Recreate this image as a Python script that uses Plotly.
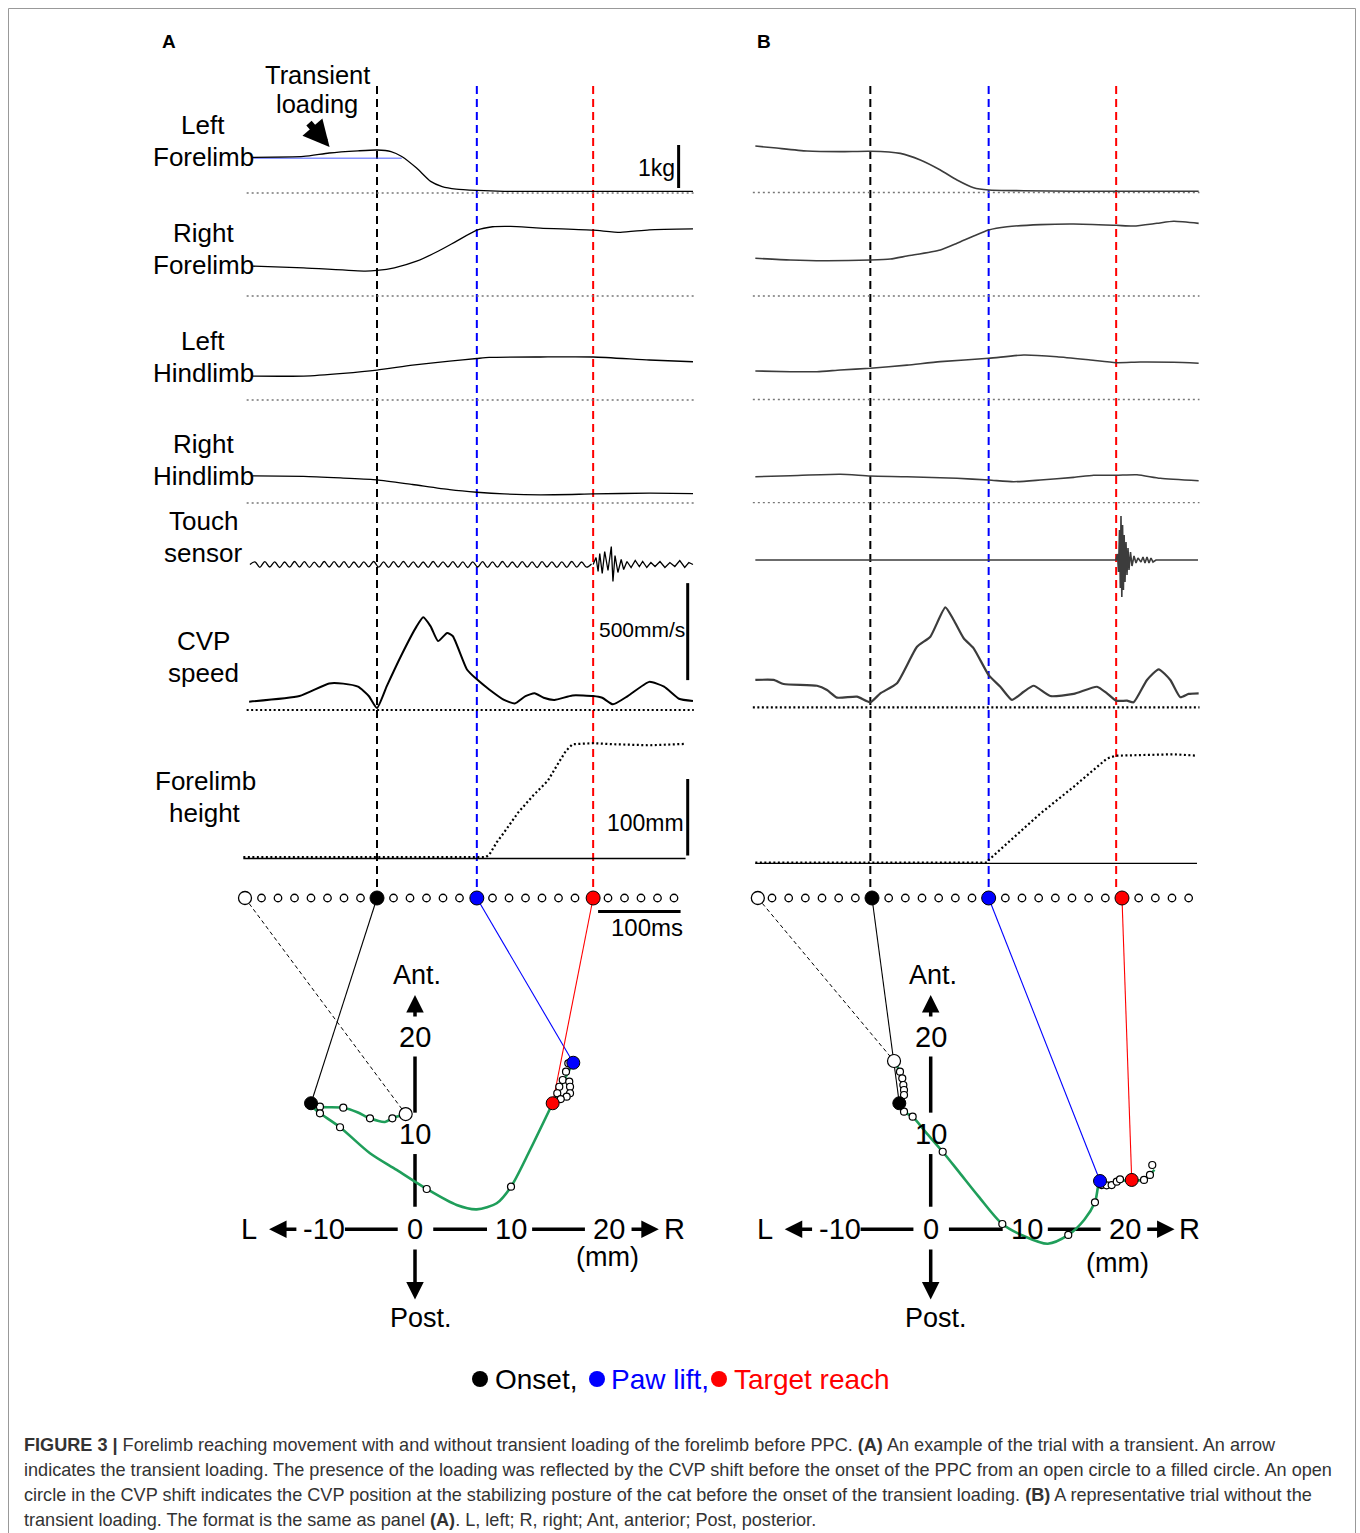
import plotly.graph_objects as go

W, H = 1360, 1533
FONT = "Liberation Sans, Arial, Helvetica, sans-serif"

# ======================= DATA =======================
# Panel A (time in ms relative to movement onset)
A_LF_t = [-151, -89, -58, -23, 0, 17, 30, 48, 65, 79, 96, 121, 154, 262, 383]
A_LF_kg = [0.83, 0.85, 0.93, 0.98, 1.00, 0.965, 0.85, 0.58, 0.27, 0.15, 0.09, 0.06, 0.04, 0.04, 0.04]
A_LF_ref_t = [-151, 30]
A_LF_ref_kg = [0.81, 0.81]
A_RF_t = [-151, -89, -14, 0, 21, 48, 74, 96, 121, 140, 162, 198, 262, 295, 330, 383]
A_RF_kg = [0.695, 0.656, 0.58, 0.595, 0.656, 0.81, 1.04, 1.27, 1.53, 1.61, 1.62, 1.58, 1.53, 1.48, 1.54, 1.56]
A_LH_t = [-151, -89, -41, 0, 43, 88, 121, 136, 198, 262, 330, 383]
A_LH_kg = [0.556, 0.556, 0.619, 0.695, 0.81, 0.905, 0.965, 0.99, 1.00, 1.00, 0.93, 0.89]
A_RH_t = [-151, -89, -41, 0, 43, 88, 121, 154, 198, 262, 330, 383]
A_RH_kg = [0.63, 0.62, 0.58, 0.54, 0.43, 0.31, 0.25, 0.21, 0.19, 0.21, 0.23, 0.22]
A_TS_t = [-154, -148, -142, -136, -130, -124, -118, -112, -106, -100,
          -94, -88, -82, -76, -70, -64, -58, -52, -46, -40,
          -34, -28, -22, -16, -10, -4, 2, 8, 14, 20,
          26, 32, 38, 44, 50, 56, 62, 68, 74, 80,
          86, 92, 98, 104, 110, 116, 122, 128, 134, 140,
          146, 152, 158, 164, 170, 176, 182, 188, 194, 200,
          206, 212, 218, 224, 230, 236, 242, 248, 254, 260]
A_TS_v = [0, 2.6, -2.8, 2.9, -2.5, 2.7, -3.0, 2.5, -2.7, 3.0,
          -2.6, 2.8, -2.9, 2.4, -2.7, 3.0, -2.5, 2.8, -2.6, 2.9,
          -3.0, 2.5, -2.8, 2.7, -2.4, 3.0, -2.7, 2.6, -2.9, 2.8,
          -2.5, 3.0, -2.6, 2.7, -2.9, 2.5, -2.8, 3.0, -2.6, 2.7,
          -2.5, 2.9, -2.8, 2.6, -3.0, 2.7, -2.5, 2.8, -2.9, 2.6,
          -2.7, 3.0, -2.6, 2.5, -2.8, 2.9, -2.7, 2.6, -3.0, 2.8,
          -2.5, 2.7, -2.9, 2.6, -2.8, 3.0, -2.6, 2.5, -2.7, 0.5]
A_TSB_t = [262, 265.5, 268, 270, 273, 276, 280, 284, 286, 288.5, 292, 296, 299, 303, 308,
           313, 318, 322, 327, 332, 337, 343, 349, 355, 361, 367, 373, 378, 383]
A_TSB_v = [0, 7, -7, 11, -9, 13, -6, 18, -17, 9, -8, 5, -5, 3, -3,
           4, -2, 3, -3, 2, -2, 3, -3, 2, -2, 4, -3, 2, 0]
A_CVP_t = [-155, -94, -58, -41, -23, -10, 0, 12, 30, 48, 56, 65, 74, 85, 92, 109, 121,
           136, 154, 167, 180, 191, 202, 215, 237, 262, 273, 286, 304, 330, 348, 366, 383]
A_CVP_v = [43, 72, 137, 136, 120, 72, 10, 124, 286, 431, 478, 431, 355, 397, 380, 209, 158,
           106, 52, 34, 72, 86, 63, 52, 75, 72, 63, 29, 72, 145, 120, 58, 46]
A_FH_t = [-162, 131.5, 136, 145, 154, 171, 189, 207, 220, 229, 237, 262, 286, 330, 374]
A_FH_mm = [1.7, 1.7, 4.7, 21, 34, 60, 82, 101.6, 125, 140.7, 149.4, 150.7, 149.4, 148, 149.8]
A_DOT_t = [-140, -120, -100, -80, -60, -40, -20, 20, 40, 60, 80, 100,
           140, 160, 180, 200, 220, 240, 280, 300, 320, 340, 360]
A_OPEN_t = -160
A_EVENT_t = [0, 121, 262]          # onset, paw lift, target reach
A_EVENT_LINE_t = [0, 121, 262]
# CVP trajectory (mm): x = L/R, y = Ant/Post
A_PRE_x = [-0.97, -2.36, -3.13, -4.69, -6.0, -7.47, -9.90, -10.83]
A_PRE_y = [12.0, 11.56, 11.18, 11.56, 12.2, 12.67, 12.77, 13.13]
A_POST_x = [-10.83, -10.4, -9.9, -7.81, -4.69, -1.91, 1.22, 4.34, 6.43, 8.51, 10.0, 11.98, 14.34, 15.4, 16.49]
A_POST_y = [13.13, 12.5, 12.08, 10.63, 7.92, 6.18, 4.2, 2.53, 2.08, 2.71, 4.44, 8.26, 13.13, 15.3, 17.35]
A_WHITE_x = [-9.90, -7.47, -4.69, -2.36, -9.90, -7.81, 1.22, 10.0, 15.97, 15.73, 15.39, 16.07,
             15.03, 16.15, 14.82, 16.15, 15.8, 15.18]
A_WHITE_y = [12.77, 12.67, 11.56, 11.56, 12.08, 10.63, 4.2, 4.44, 17.29, 16.42, 15.55, 15.38,
             14.85, 14.85, 14.17, 14.17, 13.81, 13.57]
A_OPEN_xy = (-0.97, 12.0)
A_EVENT_x = [-10.83, 16.49, 14.34]
A_EVENT_y = [13.13, 17.35, 13.13]

# Panel B
B_LF_t = [-140, -118, -78, -38, -2, 34, 58, 82, 102, 122, 140, 182, 242, 293, 392]
B_LF_kg = [1.08, 1.04, 0.965, 0.95, 0.96, 0.91, 0.756, 0.523, 0.29, 0.11, 0.058, 0.042, 0.028, 0.028, 0.028]
B_RF_t = [-140, -98, -58, -2, 22, 42, 82, 102, 122, 140, 162, 202, 242, 293, 314, 342, 362, 392]
B_RF_kg = [0.877, 0.837, 0.82, 0.837, 0.86, 0.93, 1.07, 1.225, 1.395, 1.535, 1.61, 1.66, 1.674, 1.644,
           1.628, 1.69, 1.737, 1.69]
B_LH_t = [-140, -98, -66, -38, -2, 42, 82, 140, 182, 222, 262, 293, 322, 362, 392]
B_LH_kg = [0.663, 0.647, 0.647, 0.686, 0.726, 0.80, 0.88, 0.958, 1.035, 0.995, 0.919, 0.856, 0.872, 0.865, 0.842]
B_RH_t = [-140, -98, -38, -2, 42, 102, 140, 170, 202, 242, 266, 293, 318, 346, 392]
B_RH_kg = [0.605, 0.628, 0.66, 0.62, 0.605, 0.567, 0.528, 0.488, 0.528, 0.59, 0.637, 0.637, 0.65, 0.567, 0.51]
B_TS_t = [-140, 292.8, 294.6, 295.8, 297, 298, 298.8, 299.8, 300.7, 301.7, 302.6, 303.6, 304.8, 306,
          307.2, 308.4, 310.2, 312, 314.4, 316.8, 319.2, 322.8, 325.2, 327.6, 330, 332.4, 334.8,
          337.2, 340.8, 391.2]
B_TS_v = [0, 0, 6, -12, 30, -28, 44, -37, 35, -30, 25, -22, 18, -15, 12, -10, 8, -6, 4, -3, 2, -2,
          3, -3, 3, -3, 2, -2, 0, 0]
B_CVP_t = [-140, -118, -106, -66, -54, -42, -18, -2, 10, 30, 54, 70, 88, 98, 110, 122, 140, 154,
           168, 182, 194, 214, 242, 270, 282, 293, 306, 314, 330, 344, 358, 370, 380, 392]
B_CVP_v = [141, 141, 120, 111, 89, 50, 55, 26, 72, 124, 312, 364, 515, 450, 356, 304, 166, 106,
           38, 80, 111, 58, 69, 106, 72, 34, 34, 26, 141, 196, 141, 52, 69, 72]
B_FH_t = [-140, 138, 140, 162, 202, 242, 282, 293, 322, 362, 390]
B_FH_mm = [1, 1, 4.3, 26, 65, 100, 137, 140.7, 141.6, 142.5, 140.7]
B_DOT_t = [-120, -100, -80, -60, -40, -20, 20, 40, 60, 80, 100, 120,
           160, 180, 200, 220, 240, 260, 280, 320, 340, 360, 380]
B_OPEN_t = -137
B_EVENT_t = [0, 140, 300]
B_EVENT_LINE_t = [-2, 140, 293]
B_PRE_x = [-3.82, -3.2, -2.96, -2.85, -2.78, -2.78, -3.27]
B_PRE_y = [17.53, 16.42, 15.73, 15.03, 14.51, 13.99, 13.13]
B_POST_x = [-3.27, -2.78, -1.88, -0.5, 1.25, 3.0, 5.0, 7.46, 9.7, 12.2, 14.33, 16.0, 17.11, 17.64,
            18.33, 19.38, 20.94, 22.22, 23.3]
B_POST_y = [13.13, 12.25, 11.73, 10.1, 8.08, 5.9, 3.4, 0.55, -0.7, -1.5, -0.59, 1.0, 2.81, 5.03,
            4.58, 4.96, 5.14, 5.14, 6.2]
B_WHITE_x = [-3.2, -2.96, -2.85, -2.78, -2.78, -2.78, -1.88, 1.25, 7.46, 14.33, 17.11, 17.81, 18.33,
             18.85, 19.38, 19.72, 22.22, 22.84, 23.08]
B_WHITE_y = [16.42, 15.73, 15.03, 14.51, 13.99, 12.25, 11.73, 8.08, 0.55, -0.59, 2.81, 4.61, 4.58,
             4.61, 4.96, 5.21, 5.14, 5.66, 6.70]
B_OPEN_xy = (-3.82, 17.53)
B_EVENT_x = [-3.27, 17.64, 20.94]
B_EVENT_y = [13.13, 5.03, 5.14]

EVENT_COLORS = ["#000000", "#0000ff", "#ff0000"]
EVENT_NAMES = ["Onset,", "Paw lift,", "Target reach"]

# scale bars (panel A)
SCALE_KG = 1.0
SCALE_SPEED = 500
SCALE_HEIGHT = 100
SCALE_TIME = 100

CAPTION_LINES = [
    "<b>FIGURE 3 |</b> Forelimb reaching movement with and without transient loading of the forelimb before PPC. <b>(A)</b> An example of the trial with a transient. An arrow",
    "indicates the transient loading. The presence of the loading was reflected by the CVP shift before the onset of the PPC from an open circle to a filled circle. An open",
    "circle in the CVP shift indicates the CVP position at the stabilizing posture of the cat before the onset of the transient loading. <b>(B)</b> A representative trial without the",
    "transient loading. The format is the same as panel <b>(A)</b>. L, left; R, right; Ant, anterior; Post, posterior.",
]

# ======================= GEOMETRY =======================
KG = 43.0       # px per kg
SPD = 0.194     # px per mm/s
HGT = 0.765     # px per mm (forelimb height)
TSU = 1.0       # px per touch unit
MMT = 9.6       # px per mm (trajectory)

PANELS = {
    "A": dict(t_px0=377, t_scale=0.825, t_left=232, t_right=708, top=80, bottom=920,
              rows=dict(LF=193, RF=296, LH=400, RH=503, TS=564.5, CVP=710, FH=858.5, DOT=898),
              ev_top=86, ev_bottom=889,
              mm_x0=415, mm_y0=1229.3, mm_left=232, mm_right=708, mm_top=925, mm_bottom=1350,
              mm_label=(20.0, -2.85), color="#000000", width=1.3, tail=(-155, 383)),
    "B": dict(t_px0=872, t_scale=0.8333, t_left=745, t_right=1215, top=80, bottom=920,
              rows=dict(LF=192.5, RF=296, LH=399.5, RH=502.7, TS=560, CVP=707.3, FH=863.3, DOT=898),
              ev_top=86, ev_bottom=889,
              mm_x0=930.7, mm_y0=1229.3, mm_left=745, mm_right=1215, mm_top=925, mm_bottom=1350,
              mm_label=(19.5, -3.5), color="#3c3c3c", width=1.6, tail=(-140, 392)),
}


def xd(px):
    return px / W


def yd(py):
    return 1.0 - py / H


axes = {}
_n = {"x": 0, "y": 0}


def new_x(p_left, p_right, px0, scale):
    _n["x"] += 1
    n = _n["x"]
    key = "xaxis" if n == 1 else f"xaxis{n}"
    axes[key] = dict(domain=[xd(p_left), xd(p_right)],
                     range=[(p_left - px0) / scale, (p_right - px0) / scale],
                     visible=False, fixedrange=True, anchor="free", position=0,
                     showgrid=False, zeroline=False)
    return "x" if n == 1 else f"x{n}"


def new_y(xref, p_top, p_bottom, py0, scale):
    _n["y"] += 1
    n = _n["y"]
    key = "yaxis" if n == 1 else f"yaxis{n}"
    axes[key] = dict(domain=[yd(p_bottom), yd(p_top)],
                     range=[(py0 - p_bottom) / scale, (py0 - p_top) / scale],
                     visible=False, fixedrange=True, anchor=xref,
                     showgrid=False, zeroline=False)
    return "y" if n == 1 else f"y{n}"


fig = go.Figure()
shapes = []
annotations = []


def text(s, px, py, size, color="black", xanchor="center", yanchor="middle", bold=False):
    if bold:
        s = f"<b>{s}</b>"
    annotations.append(dict(text=s, x=xd(px), y=yd(py), xref="paper", yref="paper",
                            showarrow=False, xanchor=xanchor, yanchor=yanchor,
                            font=dict(family=FONT, size=size, color=color)))


def line_trace(x, y, xr, yr, color, width, dash=None, shape="spline", smoothing=0.6):
    ln = dict(color=color, width=width, shape=shape)
    if shape == "spline":
        ln["smoothing"] = smoothing
    if dash:
        ln["dash"] = dash
    fig.add_trace(go.Scatter(x=x, y=y, xaxis=xr, yaxis=yr, mode="lines", line=ln,
                             hoverinfo="skip", showlegend=False))


def hline(xr, yr, x0, x1, color, width, dash=None, layer="below"):
    ln = dict(color=color, width=width)
    if dash:
        ln["dash"] = dash
    shapes.append(dict(type="line", xref=xr, yref=yr, x0=x0, x1=x1, y0=0, y1=0, line=ln, layer=layer))


# axis-cross decoration in trajectory units (mm)
AX_H_SEGS = [(-7.3, -1.8), (1.9, 7.5), (12.2, 17.7)]
AX_V_SEGS = [(2.35, 7.84), (12.15, 18.0)]
AX_ARROWS = [((-12.2, 0), (-15.2, 0)), ((22.4, 0), (25.4, 0)),
             ((0, 22.0), (0, 24.4)), ((0, -1.95), (0, -7.3))]
AX_LABELS = [("L", (-17.3, 0), 29), ("-10", (-9.5, 0), 29), ("0", (0, 0), 29), ("10", (10, 0), 29),
             ("20", (20.2, 0), 29), ("R", (27.0, 0), 29), ("20", (0, 20.0), 29), ("10", (0, 9.9), 29),
             ("Ant.", (0.2, 26.5), 27), ("Post.", (0.6, -9.2), 27)]


def build(name, P, D):
    xt = new_x(P["t_left"], P["t_right"], P["t_px0"], P["t_scale"])
    R = P["rows"]
    yr = {}
    for key, sc in (("LF", KG), ("RF", KG), ("LH", KG), ("RH", KG), ("TS", TSU),
                    ("CVP", SPD), ("FH", HGT), ("DOT", 1.0)):
        yr[key] = new_y(xt, P["top"], P["bottom"], R[key], sc)
    c, w = P["color"], P["width"]
    t0, t1 = P["tail"]

    # event dashed lines
    for t, col in zip(D["event_line_t"], EVENT_COLORS):
        shapes.append(dict(type="line", xref=xt, yref="paper", x0=t, x1=t,
                           y0=yd(P["ev_top"]), y1=yd(P["ev_bottom"]),
                           line=dict(color=col, width=2, dash="8px,5px"), layer="below"))

    # baselines
    for key in ("LF", "RF", "LH", "RH"):
        hline(xt, yr[key], t0 - 3, t1 + 1, "#777777", 1.3, "2px,3px")
    hline(xt, yr["CVP"], t0 - 3, t1 + 1, "#000000", 2.2, "2px,2.5px")
    hline(xt, yr["FH"], D["fh_t"][0], D["fh_t"][-1], "#000000", 1.3)

    if "lf_ref_t" in D:
        line_trace(D["lf_ref_t"], D["lf_ref_kg"], xt, yr["LF"], "#4a5cff", 1.0, shape="linear")
    line_trace(D["lf_t"], D["lf_kg"], xt, yr["LF"], c, w)
    line_trace(D["rf_t"], D["rf_kg"], xt, yr["RF"], c, w)
    line_trace(D["lh_t"], D["lh_kg"], xt, yr["LH"], c, w)
    line_trace(D["rh_t"], D["rh_kg"], xt, yr["RH"], c, w)
    line_trace(D["ts_t"], D["ts_v"], xt, yr["TS"], c, w, shape=D["ts_shape"], smoothing=1.0)
    if "tsb_t" in D:
        line_trace(D["tsb_t"], D["tsb_v"], xt, yr["TS"], c, w, shape="linear")
    line_trace(D["cvp_t"], D["cvp_v"], xt, yr["CVP"], c, 2.0 if name == "A" else 2.2, smoothing=0.5)
    line_trace(D["fh_t"], D["fh_mm"], xt, yr["FH"], "#000000", 2.2, dash="2px,2.5px", shape="linear")

    # time-row dots
    fig.add_trace(go.Scatter(x=D["dot_t"], y=[0] * len(D["dot_t"]), xaxis=xt, yaxis=yr["DOT"],
                             mode="markers", hoverinfo="skip", showlegend=False,
                             marker=dict(size=7.5, color="white", line=dict(color="black", width=1.3))))
    fig.add_trace(go.Scatter(x=[D["open_t"]], y=[0], xaxis=xt, yaxis=yr["DOT"], mode="markers",
                             hoverinfo="skip", showlegend=False,
                             marker=dict(size=13, color="white", line=dict(color="black", width=1.3))))
    fig.add_trace(go.Scatter(x=D["event_t"], y=[0] * 3, xaxis=xt, yaxis=yr["DOT"], mode="markers",
                             hoverinfo="skip", showlegend=False,
                             marker=dict(size=14, color=EVENT_COLORS, line=dict(color="black", width=1))))

    # ---------- trajectory ----------
    xm = new_x(P["mm_left"], P["mm_right"], P["mm_x0"], MMT)
    ym = new_y(xm, P["mm_top"], P["mm_bottom"], P["mm_y0"], MMT)

    def t_px(t):
        return P["t_px0"] + t * P["t_scale"]

    def mm_px(mx, my):
        return P["mm_x0"] + mx * MMT, P["mm_y0"] - my * MMT

    dot_py = R["DOT"]
    ox, oy = mm_px(*D["open_xy"])
    shapes.append(dict(type="line", xref="paper", yref="paper", x0=xd(t_px(D["open_t"])), y0=yd(dot_py),
                       x1=xd(ox), y1=yd(oy), line=dict(color="black", width=1, dash="4px,3px"), layer="below"))
    for t, ex, ey, col in zip(D["event_t"], D["event_x"], D["event_y"], EVENT_COLORS):
        px, py = mm_px(ex, ey)
        shapes.append(dict(type="line", xref="paper", yref="paper", x0=xd(t_px(t)), y0=yd(dot_py),
                           x1=xd(px), y1=yd(py), line=dict(color=col, width=1.1), layer="below"))

    for a, b in AX_H_SEGS:
        shapes.append(dict(type="line", xref=xm, yref=ym, x0=a, x1=b, y0=0, y1=0,
                           line=dict(color="black", width=3.5), layer="below"))
    for a, b in AX_V_SEGS:
        shapes.append(dict(type="line", xref=xm, yref=ym, x0=0, x1=0, y0=a, y1=b,
                           line=dict(color="black", width=3.5), layer="below"))
    for (tx, ty), (hx, hy) in AX_ARROWS:
        annotations.append(dict(x=hx, y=hy, ax=tx, ay=ty, xref=xm, yref=ym, axref=xm, ayref=ym,
                                text="", showarrow=True, arrowhead=2, arrowsize=1.0, arrowwidth=3.5,
                                arrowcolor="black", standoff=0, startstandoff=0))
    for s, (lx, ly), size in AX_LABELS + [("(mm)", P["mm_label"], 27)]:
        annotations.append(dict(text=s, x=lx, y=ly, xref=xm, yref=ym, showarrow=False,
                                xanchor="center", yanchor="middle",
                                font=dict(family=FONT, size=size, color="black")))

    line_trace(D["pre_x"], D["pre_y"], xm, ym, "#1f9e5a", 2.6, smoothing=0.8)
    line_trace(D["post_x"], D["post_y"], xm, ym, "#1f9e5a", 2.6, smoothing=0.8)
    fig.add_trace(go.Scatter(x=D["white_x"], y=D["white_y"], xaxis=xm, yaxis=ym, mode="markers",
                             hoverinfo="skip", showlegend=False,
                             marker=dict(size=7, color="white", line=dict(color="black", width=1.2))))
    fig.add_trace(go.Scatter(x=[D["open_xy"][0]], y=[D["open_xy"][1]], xaxis=xm, yaxis=ym, mode="markers",
                             hoverinfo="skip", showlegend=False,
                             marker=dict(size=13, color="white", line=dict(color="black", width=1.2))))
    fig.add_trace(go.Scatter(x=D["event_x"], y=D["event_y"], xaxis=xm, yaxis=ym, mode="markers",
                             hoverinfo="skip", showlegend=False,
                             marker=dict(size=13, color=EVENT_COLORS, line=dict(color="black", width=1))))
    return xt, yr


DATA_A = dict(lf_t=A_LF_t, lf_kg=A_LF_kg, lf_ref_t=A_LF_ref_t, lf_ref_kg=A_LF_ref_kg,
              rf_t=A_RF_t, rf_kg=A_RF_kg, lh_t=A_LH_t, lh_kg=A_LH_kg, rh_t=A_RH_t, rh_kg=A_RH_kg,
              ts_t=A_TS_t, ts_v=A_TS_v, ts_shape="spline", tsb_t=A_TSB_t, tsb_v=A_TSB_v,
              cvp_t=A_CVP_t, cvp_v=A_CVP_v, fh_t=A_FH_t, fh_mm=A_FH_mm,
              dot_t=A_DOT_t, open_t=A_OPEN_t, event_t=A_EVENT_t, event_line_t=A_EVENT_LINE_t,
              pre_x=A_PRE_x, pre_y=A_PRE_y, post_x=A_POST_x, post_y=A_POST_y,
              white_x=A_WHITE_x, white_y=A_WHITE_y, open_xy=A_OPEN_xy,
              event_x=A_EVENT_x, event_y=A_EVENT_y)
DATA_B = dict(lf_t=B_LF_t, lf_kg=B_LF_kg,
              rf_t=B_RF_t, rf_kg=B_RF_kg, lh_t=B_LH_t, lh_kg=B_LH_kg, rh_t=B_RH_t, rh_kg=B_RH_kg,
              ts_t=B_TS_t, ts_v=B_TS_v, ts_shape="linear",
              cvp_t=B_CVP_t, cvp_v=B_CVP_v, fh_t=B_FH_t, fh_mm=B_FH_mm,
              dot_t=B_DOT_t, open_t=B_OPEN_t, event_t=B_EVENT_t, event_line_t=B_EVENT_LINE_t,
              pre_x=B_PRE_x, pre_y=B_PRE_y, post_x=B_POST_x, post_y=B_POST_y,
              white_x=B_WHITE_x, white_y=B_WHITE_y, open_xy=B_OPEN_xy,
              event_x=B_EVENT_x, event_y=B_EVENT_y)

xtA, yrA = build("A", PANELS["A"], DATA_A)
xtB, yrB = build("B", PANELS["B"], DATA_B)

# ---- scale bars (panel A) ----
shapes.append(dict(type="line", xref=xtA, yref=yrA["LF"], x0=365.6, x1=365.6, y0=0.116, y1=0.116 + SCALE_KG,
                   line=dict(color="black", width=3)))
shapes.append(dict(type="line", xref=xtA, yref=yrA["CVP"], x0=376.6, x1=376.6, y0=154, y1=154 + SCALE_SPEED,
                   line=dict(color="black", width=3)))
shapes.append(dict(type="line", xref=xtA, yref=yrA["FH"], x0=376.6, x1=376.6, y0=3.9, y1=3.9 + SCALE_HEIGHT,
                   line=dict(color="black", width=3)))
shapes.append(dict(type="line", xref=xtA, yref=yrA["DOT"], x0=268, x1=268 + SCALE_TIME, y0=-13.5, y1=-13.5,
                   line=dict(color="black", width=3)))

# transient loading arrow
annotations.append(dict(x=-57.5, y=1.07, ax=-84.0, ay=1.66, xref=xtA, yref=yrA["LF"], axref=xtA,
                        ayref=yrA["LF"], text="", showarrow=True, arrowhead=2, arrowsize=0.75,
                        arrowwidth=7, arrowcolor="black", standoff=0))

# ---- legend (event markers) on a figure-wide pixel axis ----
xl = new_x(0, W, 0, 1)
yl = new_y(xl, 0, H, 0, -1)
LEGEND_DOT_PX = [480, 597, 719]
LEGEND_TEXT_PX = [495, 611, 734]
fig.add_trace(go.Scatter(x=LEGEND_DOT_PX, y=[1379] * 3, xaxis=xl, yaxis=yl, mode="markers",
                         hoverinfo="skip", showlegend=False,
                         marker=dict(size=16, color=EVENT_COLORS, line=dict(width=0))))
for s, px, col in zip(EVENT_NAMES, LEGEND_TEXT_PX, EVENT_COLORS):
    text(s, px - 2, 1379, 28, color=col, xanchor="left")

# ---- texts ----
text("A", 169, 41, 19, bold=True)
text("B", 764, 41, 19, bold=True)
text("Transient", 317, 75, 25.5)
text("loading", 317, 104, 25.5)
for s, px, py in [("Left", 203, 125), ("Forelimb", 203, 157), ("Right", 203, 233), ("Forelimb", 203, 265),
                  ("Left", 203, 341), ("Hindlimb", 203, 373), ("Right", 203, 444), ("Hindlimb", 203, 476),
                  ("Touch", 203, 521), ("sensor", 203, 553), ("CVP", 203, 641), ("speed", 203, 673),
                  ("Forelimb", 205, 781), ("height", 205, 813)]:
    text(s, px, py, 26)
text("1kg", 656, 168, 23)
text("500mm/s", 642, 629, 21)
text("100mm", 645, 823, 23)
text("100ms", 647, 927, 24)

for i, s in enumerate(CAPTION_LINES):
    text(s, 22, 1445 + 25 * i, 18.1, color="#333333", xanchor="left")

# border
shapes.append(dict(type="rect", xref="paper", yref="paper", x0=xd(8.5), x1=xd(1355.5), y0=yd(1545), y1=yd(8.5),
                   line=dict(color="#999999", width=1), fillcolor="rgba(0,0,0,0)", layer="above"))

fig.update_layout(width=W, height=H, margin=dict(l=0, r=0, t=0, b=0),
                  paper_bgcolor="white", plot_bgcolor="rgba(0,0,0,0)",
                  showlegend=False, shapes=shapes, annotations=annotations,
                  font=dict(family=FONT), **axes)

fig.write_html("out.html", config={"displayModeBar": False},
               post_script="document.body.style.margin='0';document.body.style.overflow='hidden';")
